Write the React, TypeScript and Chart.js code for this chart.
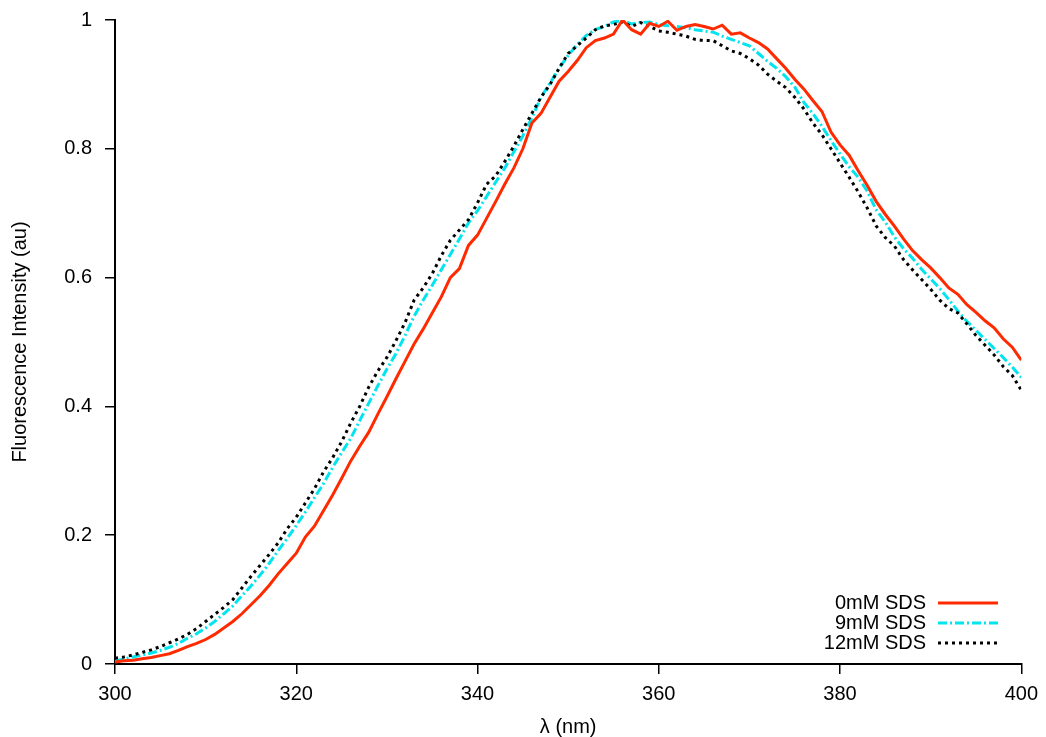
import React, { useEffect, useRef } from "react";
import { Chart, registerables } from "chart.js";

Chart.register(...registerables);

const wavelengths: number[] = [];
for (let w = 300; w <= 400; w++) wavelengths.push(w);

const sds0: number[] = [
  0.003, 0.005, 0.006, 0.008, 0.010, 0.013, 0.016, 0.021, 0.027, 0.032,
  0.038, 0.046, 0.056, 0.066, 0.078, 0.092, 0.106, 0.122, 0.140, 0.156,
  0.172, 0.197, 0.214, 0.238, 0.262, 0.288, 0.315, 0.338, 0.360, 0.388,
  0.415, 0.443, 0.470, 0.497, 0.520, 0.545, 0.570, 0.600, 0.614, 0.650,
  0.666, 0.692, 0.718, 0.745, 0.770, 0.800, 0.840, 0.855, 0.880, 0.905,
  0.920, 0.937, 0.957, 0.968, 0.972, 0.978, 1.000, 0.985, 0.978, 0.995,
  0.990, 0.998, 0.984, 0.990, 0.993, 0.990, 0.986, 0.992, 0.978, 0.980,
  0.972, 0.965, 0.955, 0.940, 0.925, 0.908, 0.893, 0.875, 0.858, 0.826,
  0.806, 0.790, 0.766, 0.743, 0.718, 0.698, 0.680, 0.660, 0.642, 0.628,
  0.615, 0.600, 0.584, 0.574, 0.558, 0.546, 0.533, 0.522, 0.505, 0.492,
  0.472,
];

const sds9: number[] = [
  0.004, 0.008, 0.011, 0.014, 0.017, 0.021, 0.026, 0.032, 0.040, 0.047,
  0.056, 0.066, 0.078, 0.090, 0.106, 0.121, 0.138, 0.156, 0.176, 0.195,
  0.215, 0.236, 0.258, 0.280, 0.305, 0.328, 0.350, 0.378, 0.405, 0.432,
  0.458, 0.482, 0.510, 0.540, 0.565, 0.588, 0.612, 0.636, 0.660, 0.685,
  0.704, 0.726, 0.748, 0.770, 0.795, 0.820, 0.848, 0.880, 0.902, 0.925,
  0.945, 0.962, 0.976, 0.985, 0.990, 0.997, 0.999, 0.994, 0.996, 0.997,
  0.993, 0.991, 0.990, 0.988, 0.985, 0.983, 0.981, 0.975, 0.970, 0.965,
  0.960, 0.948, 0.936, 0.925, 0.912, 0.896, 0.872, 0.855, 0.835, 0.813,
  0.792, 0.772, 0.756, 0.734, 0.705, 0.686, 0.663, 0.645, 0.630, 0.613,
  0.598, 0.583, 0.566, 0.548, 0.532, 0.518, 0.504, 0.490, 0.476, 0.461,
  0.445,
];

const sds12: number[] = [
  0.009, 0.011, 0.014, 0.018, 0.022, 0.027, 0.033, 0.039, 0.046, 0.055,
  0.066, 0.077, 0.088, 0.100, 0.118, 0.136, 0.153, 0.170, 0.188, 0.210,
  0.228, 0.250, 0.272, 0.298, 0.320, 0.345, 0.374, 0.400, 0.430, 0.455,
  0.476, 0.502, 0.530, 0.565, 0.584, 0.606, 0.634, 0.658, 0.674, 0.690,
  0.716, 0.745, 0.758, 0.780, 0.804, 0.830, 0.855, 0.880, 0.900, 0.925,
  0.948, 0.960, 0.972, 0.985, 0.991, 0.993, 0.997, 0.990, 0.996, 0.990,
  0.983, 0.981, 0.978, 0.975, 0.970, 0.968, 0.968, 0.960, 0.952, 0.948,
  0.940, 0.930, 0.916, 0.905, 0.895, 0.880, 0.862, 0.840, 0.822, 0.800,
  0.778, 0.756, 0.733, 0.708, 0.680, 0.662, 0.649, 0.628, 0.612, 0.597,
  0.582, 0.565, 0.552, 0.545, 0.528, 0.510, 0.495, 0.480, 0.462, 0.448,
  0.425,
];

const seriesLabels = ["0mM SDS", "9mM SDS", "12mM SDS"];
const seriesColors = ["#ff2a00", "#00e5ee", "#000000"];
const seriesDashes: number[][] = [[], [9, 3, 2, 3], [3, 4]];

const FONT = "'Liberation Sans', Arial, Helvetica, sans-serif";

const toPoints = (ys: number[]) => wavelengths.map((x, i) => ({ x, y: ys[i] }));

const legendPlugin = {
  id: "insideLegend",
  afterDatasetsDraw(chart: any) {
    const ctx = chart.ctx;
    ctx.save();
    ctx.font = `20px ${FONT}`;
    ctx.textAlign = "right";
    ctx.textBaseline = "middle";
    const rows = [603, 623, 643];
    seriesLabels.forEach((label, i) => {
      const y = rows[i];
      ctx.fillStyle = "#000";
      ctx.fillText(label, 926, y);
      ctx.beginPath();
      ctx.strokeStyle = seriesColors[i];
      ctx.lineWidth = 3;
      ctx.setLineDash(seriesDashes[i]);
      ctx.moveTo(938, y);
      ctx.lineTo(998, y);
      ctx.stroke();
    });
    ctx.restore();
  },
};

export default function App() {
  const ref = useRef<HTMLCanvasElement | null>(null);

  useEffect(() => {
    if (!ref.current) return;
    const data = [sds0, sds9, sds12];
    const orders = [0, 2, 1];
    const chart = new Chart(ref.current, {
      type: "line",
      data: {
        datasets: data.map((d, i) => ({
          label: seriesLabels[i],
          data: toPoints(d),
          borderColor: seriesColors[i],
          borderWidth: 3,
          borderDash: seriesDashes[i],
          pointRadius: 0,
          tension: 0,
          fill: false,
          order: orders[i],
        })),
      },
      options: {
        animation: false,
        responsive: false,
        layout: { padding: { top: 20, right: 24, left: 0, bottom: 0 } },
        plugins: {
          legend: { display: false },
          tooltip: { enabled: false },
        },
        scales: {
          x: {
            type: "linear",
            min: 300,
            max: 400,
            afterFit: (s: any) => {
              s.height = 73;
            },
            ticks: {
              stepSize: 20,
              padding: 8,
              color: "#000",
              font: { family: FONT, size: 20 },
              maxRotation: 0,
            },
            grid: {
              drawOnChartArea: false,
              drawTicks: true,
              tickLength: 10,
              color: "#000",
              lineWidth: 1.5,
            },
            border: { display: true, color: "#000", width: 2 },
            title: {
              display: true,
              text: "λ (nm)",
              color: "#000",
              font: { family: FONT, size: 20, lineHeight: 1 },
              padding: { top: 0, bottom: 0 },
            },
          },
          y: {
            type: "linear",
            min: 0,
            max: 1,
            afterFit: (s: any) => {
              s.width = 115;
              s.paddingTop = 0;
              s.paddingBottom = 0;
            },
            ticks: {
              stepSize: 0.2,
              padding: 13,
              color: "#000",
              font: { family: FONT, size: 20 },
              callback: (v: any) => String(Number(Number(v).toFixed(1))),
            },
            grid: {
              drawOnChartArea: false,
              drawTicks: true,
              tickLength: 10,
              color: "#000",
              lineWidth: 1.5,
            },
            border: { display: true, color: "#000", width: 2 },
            title: {
              display: true,
              text: "Fluorescence Intensity (au)",
              color: "#000",
              font: { family: FONT, size: 20, lineHeight: 1 },
              padding: { top: 10, bottom: 0 },
            },
          },
        },
      },
      plugins: [legendPlugin],
    });
    return () => chart.destroy();
  }, []);

  return (
    <div
      style={{
        position: "fixed",
        left: 0,
        top: 0,
        width: 1046,
        height: 737,
        background: "#fff",
      }}
    >
      <canvas ref={ref} width={1046} height={737} />
    </div>
  );
}
